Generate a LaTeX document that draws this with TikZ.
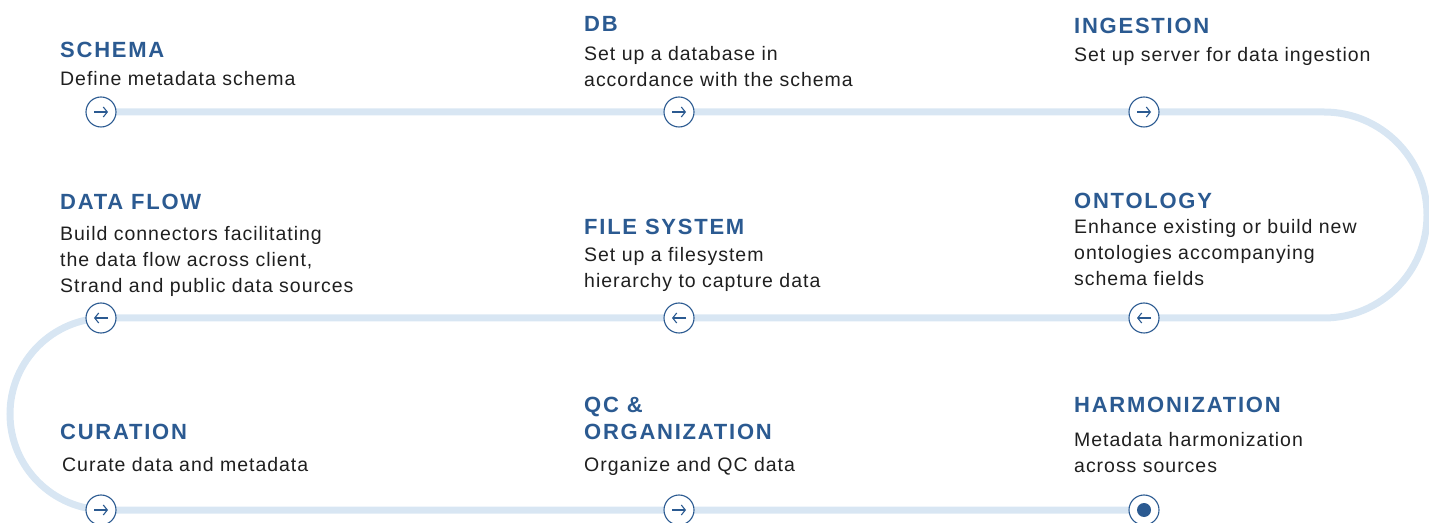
\documentclass[tikz,border=0pt]{standalone}
\usepackage{fontspec}
\setmainfont{Liberation Sans}
\newfontfamily\ttlfont[LetterSpace=8]{Liberation Sans}
\newfontfamily\descfont[LetterSpace=5]{Liberation Sans}
\usetikzlibrary{arrows.meta,backgrounds}

\definecolor{titleblue}{HTML}{2B5A91}
\definecolor{trackblue}{HTML}{D8E6F3}
\definecolor{bodygray}{HTML}{1F1F1F}

\tikzset{
  track/.style={line width=7pt, draw=trackblue},
  stop/.style={circle, draw=titleblue, fill=white, line width=1.1pt,
    minimum size=30pt, inner sep=0pt},
  fwd/.style={stop, path picture={
    \draw[titleblue, line width=1.1pt, -{Straight Barb[length=4pt,width=10pt]}]
      ([xshift=-7pt]path picture bounding box.center) --
      ([xshift=7pt]path picture bounding box.center);}},
  bwd/.style={stop, path picture={
    \draw[titleblue, line width=1.1pt, -{Straight Barb[length=4pt,width=10pt]}]
      ([xshift=7pt]path picture bounding box.center) --
      ([xshift=-7pt]path picture bounding box.center);}},
  endstop/.style={stop, path picture={
    \fill[titleblue] (path picture bounding box.center) circle (7pt);}},
  % base anchor sits on the last line of a node
  ttl/.style={anchor=base west, inner sep=0pt, align=left, text=titleblue,
    font=\ttlfont\fontsize{22}{27}\selectfont\bfseries},
  desc/.style={anchor=base west, inner sep=0pt, align=left, text=bodygray,
    font=\descfont\fontsize{19.5}{26}\selectfont},
}

\begin{document}
\begin{tikzpicture}[x=1pt,y=1pt]
  \useasboundingbox (0,0) rectangle (1429,522);

  % Stops along the track
  \node[fwd] (s1) at (101,410) {};
  \node[fwd] (s2) at (679,410) {};
  \node[fwd] (s3) at (1144,410) {};
  \node[bwd] (s4) at (1144,204) {};
  \node[bwd] (s5) at (679,204) {};
  \node[bwd] (s6) at (101,204) {};
  \node[fwd] (s7) at (101,12) {};
  \node[fwd] (s8) at (679,12) {};
  \node[endstop] (s9) at (1144,12) {};

  % Turning points of the track
  \coordinate (r1) at (1324,410);
  \coordinate (l1) at (106,204);

  \begin{pgfonlayer}{background}
    \draw[track] (s1.center) -- (s2.center) -- (s3.center) -- (r1)
      arc[start angle=90, end angle=-90, radius=103] -- (s4.center)
      -- (s5.center) -- (l1)
      arc[start angle=90, end angle=270, radius=96] -- (s8.center) -- (s9.center);
  \end{pgfonlayer}

  % Row 1
  \node[ttl] (t1) at (60,464) {SCHEMA};
  \node[desc] (d1) at (60,436) {Define metadata schema};
  \node[ttl] (t2) at (584,490) {DB};
  \node[desc] (d2) at (584,435) {Set up a database in\\accordance with the schema};
  \node[ttl] (t3) at (1074,488) {INGESTION};
  \node[desc] (d3) at (1074,460) {Set up server for data ingestion};

  % Row 2
  \node[ttl] (t4) at (1074,313) {ONTOLOGY};
  \node[desc] (d4) at (1074,236) {Enhance existing or build new\\ontologies accompanying\\schema fields};
  \node[ttl] (t5) at (584,287) {FILE SYSTEM};
  \node[desc] (d5) at (584,234) {Set up a filesystem\\hierarchy to capture data};
  \node[ttl] (t6) at (60,312) {DATA FLOW};
  \node[desc] (d6) at (60,229) {Build connectors facilitating\\the data flow across client,\\Strand and public data sources};

  % Row 3
  \node[ttl] (t7) at (60,82) {CURATION};
  \node[desc] (d7) at (62,50) {Curate data and metadata};
  \node[ttl] (t8) at (584,82) {QC \&\\ORGANIZATION};
  \node[desc] (d8) at (584,50) {Organize and QC data};
  \node[ttl] (t9) at (1074,109) {HARMONIZATION};
  \node[desc] (d9) at (1074,49) {Metadata harmonization\\across sources};
\end{tikzpicture}
\end{document}
